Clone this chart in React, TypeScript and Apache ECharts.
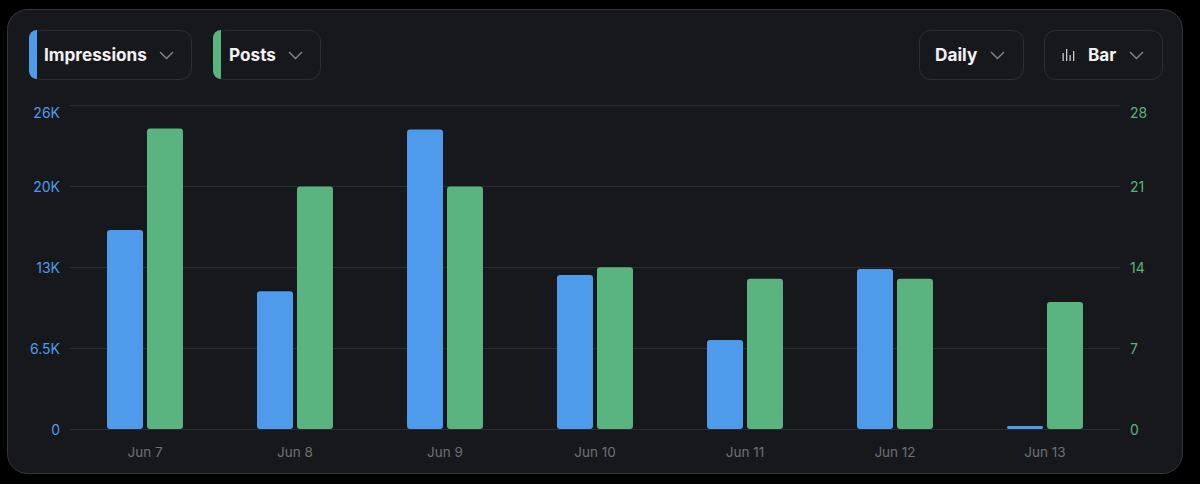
import React, { useEffect, useRef } from "react";
import * as echarts from "echarts";

const categories = ["Jun 7", "Jun 8", "Jun 9", "Jun 10", "Jun 11", "Jun 12", "Jun 13"];
const impressions = [16000, 11080, 24080, 12380, 7150, 12860, 240];
const posts = [26, 21, 21, 14, 13, 13, 11];
const BLUE = "#4e9bec";
const GREEN = "#59b480";
const FONT = "Inter, 'Noto Sans', sans-serif";
const BORDER = "#2d2e32";

function chevron(x: number, y: number) {
  return {
    type: "polyline",
    shape: { points: [[x, y], [x + 6.5, y + 6.5], [x + 13, y]] },
    style: { stroke: "#85868a", lineWidth: 1.4, fill: "none" },
  };
}
function box(x: number, w: number) {
  return {
    type: "rect",
    shape: { x, y: 30.5, width: w, height: 49, r: 11 },
    style: { fill: "#17181c", stroke: BORDER, lineWidth: 1 },
  };
}
function stripe(x: number, color: string) {
  return {
    type: "rect",
    shape: { x, y: 30, width: 8, height: 49, r: [9, 0, 0, 9] },
    style: { fill: color },
  };
}
function label(x: number, text: string) {
  return {
    type: "text",
    x,
    y: 54.5,
    style: {
      text,
      fill: "#f2f2f3",
      font: `700 17.2px ${FONT}`,
      textVerticalAlign: "middle",
      verticalAlign: "middle",
    },
  };
}
function iconBar(x: number, y: number, h: number) {
  return { type: "rect", shape: { x, y, width: 1.3, height: h }, style: { fill: "#c9c9cc" } };
}

export default function App() {
  const ref = useRef<HTMLDivElement>(null);
  useEffect(() => {
    const chart = echarts.init(ref.current!, null, { renderer: "svg" });
    chart.setOption({
      animation: false,
      backgroundColor: "#000000",
      graphic: [
        {
          type: "rect",
          z: -10,
          shape: { x: 7.5, y: 9.5, width: 1175, height: 464, r: 20 },
          style: { fill: "#17181c", stroke: "#35363a", lineWidth: 1 },
        },
        box(29.5, 162), stripe(29, BLUE), label(44, "Impressions"), chevron(160, 52),
        box(213.5, 107), stripe(213, GREEN), label(229, "Posts"), chevron(289, 52),
        box(919.5, 104), label(935, "Daily"), chevron(991, 52),
        box(1044.5, 118), label(1088, "Bar"), chevron(1130, 52),
        iconBar(1062.5, 53, 8), iconBar(1066, 49, 12), iconBar(1069.5, 55, 6), iconBar(1073, 51, 10),
      ],
      grid: { left: 70, right: 80, top: 105.5, bottom: 55, containLabel: false },
      xAxis: {
        type: "category",
        data: categories,
        axisLine: { show: false },
        axisTick: { show: false },
        axisLabel: { color: "#6f7073", fontSize: 13.5, fontFamily: FONT, margin: 16 },
      },
      yAxis: [
        {
          type: "value",
          min: 0,
          max: 26000,
          interval: 6500,
          axisLine: { show: false },
          axisTick: { show: false },
          splitLine: { lineStyle: { color: "#2b2d30", width: 1 } },
          axisLabel: {
            color: BLUE,
            fontSize: 14,
            fontFamily: FONT,
            margin: 10,
            verticalAlignMaxLabel: "top",
            formatter: (v: number) => {
              if (v === 0) return "0";
              const k = v / 1000;
              return k % 1 === 0.5 && k < 10 ? `${k}K` : `${Math.round(k)}K`;
            },
          },
        },
        {
          type: "value",
          min: 0,
          max: 28,
          interval: 7,
          axisLine: { show: false },
          axisTick: { show: false },
          splitLine: { show: false },
          axisLabel: {
            color: GREEN,
            fontSize: 14,
            fontFamily: FONT,
            margin: 10,
            verticalAlignMaxLabel: "top",
          },
        },
      ],
      series: [
        {
          name: "Impressions",
          type: "bar",
          yAxisIndex: 0,
          data: impressions,
          barWidth: 36,
          barGap: "11%",
          itemStyle: { color: BLUE, borderRadius: 3 },
        },
        {
          name: "Posts",
          type: "bar",
          yAxisIndex: 1,
          data: posts,
          barWidth: 36,
          itemStyle: { color: GREEN, borderRadius: 3 },
        },
      ],
    });
    return () => chart.dispose();
  }, []);
  return <div ref={ref} style={{ width: 1200, height: 484, position: "absolute", left: 0, top: 0 }} />;
}
